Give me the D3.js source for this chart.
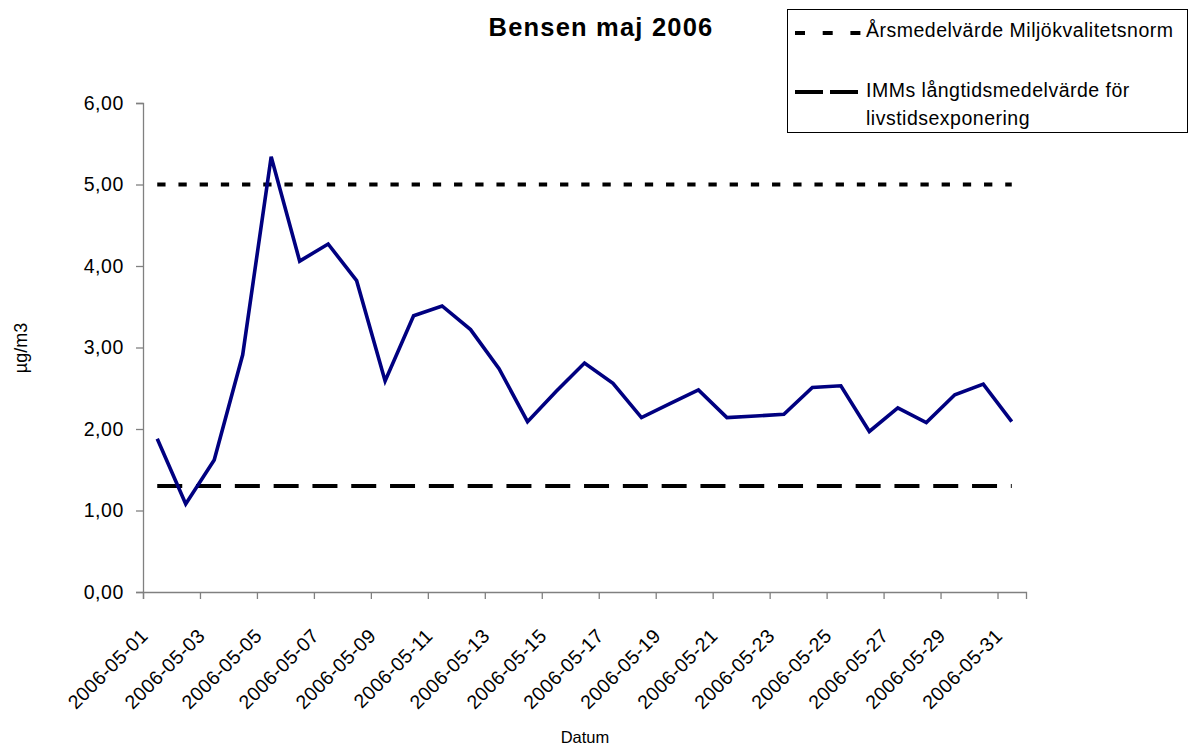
<!DOCTYPE html>
<html>
<head>
<meta charset="utf-8">
<script src="https://cdn.jsdelivr.net/npm/d3@7"></script>
<style>
  body { margin: 0; background: #ffffff; }
  svg { display: block; font-family: "Liberation Sans", Arial, sans-serif; }
</style>
</head>
<body>
<svg id="chart_svg" width="1189" height="747"></svg>
<script>
  // Categories: one per day in May 2006
  var dates = ["2006-05-01", "2006-05-02", "2006-05-03", "2006-05-04", "2006-05-05",
               "2006-05-06", "2006-05-07", "2006-05-08", "2006-05-09", "2006-05-10",
               "2006-05-11", "2006-05-12", "2006-05-13", "2006-05-14", "2006-05-15",
               "2006-05-16", "2006-05-17", "2006-05-18", "2006-05-19", "2006-05-20",
               "2006-05-21", "2006-05-22", "2006-05-23", "2006-05-24", "2006-05-25",
               "2006-05-26", "2006-05-27", "2006-05-28", "2006-05-29", "2006-05-30",
               "2006-05-31"];
  // Daily benzene, µg/m3
  var bensen = [1.88, 1.08, 1.62, 2.91, 5.34, 4.06, 4.27, 3.82, 2.59, 3.39,
                3.51, 3.22, 2.74, 2.09, 2.46, 2.81, 2.56, 2.14, 2.31, 2.48,
                2.14, 2.16, 2.18, 2.51, 2.53, 1.97, 2.26, 2.08, 2.42, 2.55,
                2.09];
  // Reference levels
  var normValue = 5.0;   // Årsmedelvärde Miljökvalitetsnorm
  var immValue = 1.3;    // IMMs långtidsmedelvärde
  var yTicks = [0, 1, 2, 3, 4, 5, 6];
  var labelDates = dates.filter(function (d, i) { return i % 2 == 0; });
  var tickBounds = [0, 2, 4, 6, 8, 10, 12, 14, 16, 18, 20, 22, 24, 26, 28, 30];

  (function () {
      var svg = d3.select("svg#chart_svg");
      var left = 143, right = 1026, top = 103, bottom = 592;

      var x = d3.scaleBand().domain(dates).range([left, right]).padding(0);
      var xb = d3.scaleLinear().domain([0, dates.length]).range([left, right]);
      var y = d3.scaleLinear().domain([0, 6]).range([bottom, top]);
      var cx = function (d) { return x(d) + x.bandwidth() / 2; };
      var comma = function (v) { return d3.format(".2f")(v).replace(".", ","); };

      // Axes
      var yAxis = svg.append("g").attr("transform", "translate(" + left + ",0)").
          call(d3.axisLeft(y).tickValues(yTicks).tickSize(7).tickPadding(12).
               tickFormat(comma));
      yAxis.selectAll("text").style("font-size", "19.5px").style("fill", "#000").
          style("letter-spacing", "0.6px");

      var xAxis = svg.append("g").attr("transform", "translate(0," + bottom + ")").
          call(d3.axisBottom(xb).tickValues(tickBounds).tickSize(7).tickFormat(""));

      var xLabels = svg.append("g").attr("transform", "translate(0," + bottom + ")").
          call(d3.axisBottom(x).tickValues(labelDates).tickSize(0));
      xLabels.select(".domain").remove();
      xLabels.selectAll("text").
          attr("y", null).attr("dy", null).
          attr("text-anchor", "end").
          attr("transform", "translate(-8,45) rotate(-45)").
          style("font-size", "19.5px").style("fill", "#000").
          style("letter-spacing", "0.4px");

      svg.selectAll(".domain, .tick line").
          attr("stroke", "#808080").attr("stroke-width", 1.3);

      // Reference lines, drawn as constant series over the categories
      var line = d3.line().x(function (d) { return cx(d.date); }).
          y(function (d) { return y(d.v); });
      svg.append("path").
          datum(dates.map(function (d) { return {date: d, v: normValue}; })).
          attr("d", line).attr("fill", "none").attr("stroke", "#000").
          attr("stroke-width", 4).attr("stroke-dasharray", "8.3,12.9");
      svg.append("path").
          datum(dates.map(function (d) { return {date: d, v: immValue}; })).
          attr("d", line).attr("fill", "none").attr("stroke", "#000").
          attr("stroke-width", 4).attr("stroke-dasharray", "25,13.8");

      // Benzene series
      svg.append("path").
          datum(dates.map(function (d, i) { return {date: d, v: bensen[i]}; })).
          attr("d", line).attr("fill", "none").attr("stroke", "#000080").
          attr("stroke-width", 3.6).attr("stroke-linejoin", "miter");

      // Titles
      svg.append("text").attr("x", 601).attr("y", 36).attr("text-anchor", "middle").
          style("font-size", "25.5px").style("font-weight", "bold").
          style("letter-spacing", "1.2px").text("Bensen maj 2006");
      svg.append("text").attr("x", 585).attr("y", 743).attr("text-anchor", "middle").
          style("font-size", "16.5px").text("Datum");
      svg.append("text").attr("transform", "translate(27,348) rotate(-90)").
          attr("text-anchor", "middle").style("font-size", "18px").text("µg/m3");

      // Legend
      var lg = svg.append("g");
      lg.append("rect").attr("x", 787.5).attr("y", 9.5).attr("width", 400).attr("height", 123).
          attr("fill", "#fff").attr("stroke", "#000").attr("stroke-width", 1);
      lg.append("line").attr("x1", 795).attr("x2", 861).attr("y1", 33).attr("y2", 33).
          attr("stroke", "#000").attr("stroke-width", 4).attr("stroke-dasharray", "10,17.7");
      lg.append("line").attr("x1", 795).attr("x2", 858).attr("y1", 92).attr("y2", 92).
          attr("stroke", "#000").attr("stroke-width", 4).attr("stroke-dasharray", "28,7");
      var legendText = [["Årsmedelvärde Miljökvalitetsnorm", 37],
                        ["IMMs långtidsmedelvärde för", 97],
                        ["livstidsexponering", 125]];
      lg.selectAll("text.leg").data(legendText).enter().append("text").
          attr("class", "leg").attr("x", 866).attr("y", function (d) { return d[1]; }).
          style("font-size", "19.5px").style("letter-spacing", "0.5px").
          text(function (d) { return d[0]; });
  })();
</script>
</body>
</html>
